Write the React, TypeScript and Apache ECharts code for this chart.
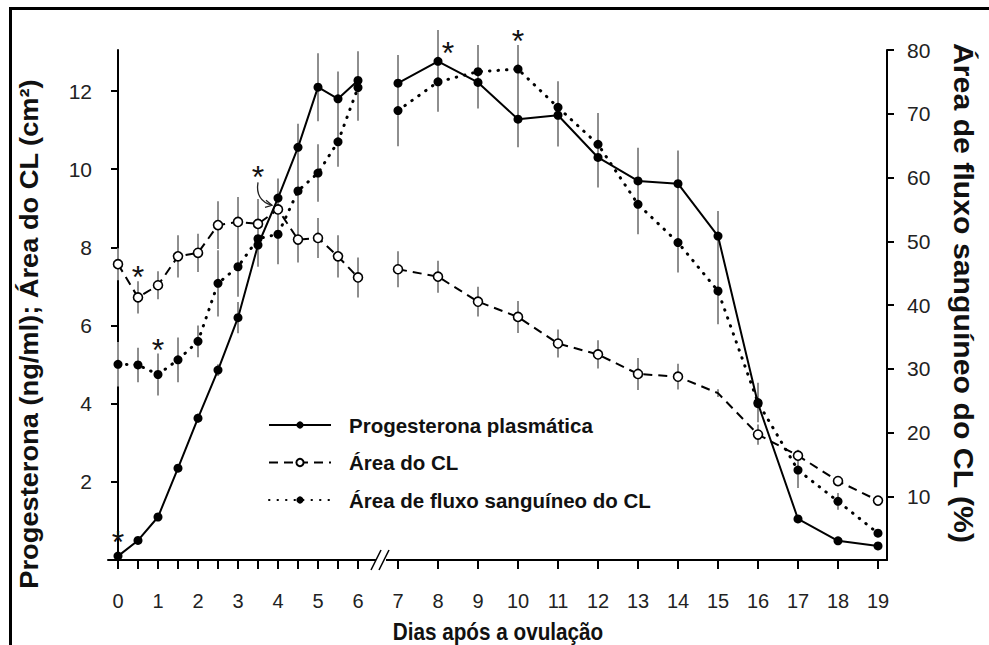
import React, { useEffect, useRef } from "react";
import * as echarts from "echarts";

// ---- data ----
const days = [0, 0.5, 1, 1.5, 2, 2.5, 3, 3.5, 4, 4.5, 5, 5.5, 6, 7, 8, 9, 10, 11, 12, 13, 14, 15, 16, 17, 18, 19];
const progMean = [0.1, 0.5, 1.1, 2.35, 3.63, 4.86, 6.2, 8.06, 9.26, 10.56, 12.1, 11.8, 12.27, 12.2, 12.76, 12.22, 11.28, 11.38, 10.3, 9.7, 9.63, 8.29, 4.0, 1.05, 0.49, 0.36];
const progErr = [0, 0, 0.05, 0.1, 0.12, 0.15, 0.4, 0.5, 0.5, 0.6, 0.87, 0.7, 0.75, 0.72, 0.8, 0.67, 0.72, 0.8, 0.77, 0.85, 0.85, 0.64, 0.3, 0.05, 0.05, 0.05];
const areaMean = [7.57, 6.72, 7.03, 7.77, 7.86, 8.57, 8.65, 8.6, 8.97, 8.2, 8.24, 7.77, 7.23, 7.44, 7.25, 6.61, 6.22, 5.54, 5.26, 4.76, 4.69, 4.27, 3.21, 2.67, 2.02, 1.52];
const areaErr = [0.41, 0.41, 0.36, 0.54, 0.49, 0.61, 0.64, 0.64, 0.64, 0.59, 0.51, 0.54, 0.51, 0.46, 0.41, 0.38, 0.41, 0.36, 0.36, 0.41, 0.33, 0.1, 0.26, 0.15, 0.1, 0.05];
const areaHiddenMarker = [15]; // day whose marker is not visible in the original
const flowMean = [30.7, 30.6, 29.1, 31.4, 34.3, 43.4, 46.0, 50.4, 51.1, 57.9, 60.7, 65.6, 74.1, 70.5, 75.0, 76.6, 77.0, 71.0, 65.2, 55.8, 49.8, 42.2, 24.7, 14.1, 9.2, 4.2];
const flowErr = [3.5, 2.7, 3.3, 3.5, 2.5, 5.2, 4.7, 4.4, 4.7, 4.4, 4.5, 3.9, 5.2, 5.6, 4.7, 4.2, 3.8, 4.1, 4.9, 4.7, 4.7, 5.2, 3.1, 2.8, 1.3, 0.5];

const xTicks = [0, 0.5, 1, 1.5, 2, 2.5, 3, 3.5, 4, 4.5, 5, 5.5, 6, 7, 8, 9, 10, 11, 12, 13, 14, 15, 16, 17, 18, 19];
const xLabels = [0, 1, 2, 3, 4, 5, 6, 7, 8, 9, 10, 11, 12, 13, 14, 15, 16, 17, 18, 19];
const leftTicks = [2, 4, 6, 8, 10, 12];
const rightTicks = [10, 20, 30, 40, 50, 60, 70, 80];
const breakDay = 6.5;

const seriesNames = ["Progesterona plasmática", "Área do CL", "Área de fluxo sanguíneo do CL"];
// asterisks: [day, left-axis value]
const asterisks = [
  [0, 0.59],
  [0.5, 7.37],
  [1, 5.5],
  [3.5, 9.92],
  [8.25, 13.09],
  [10, 13.4],
];
const arrowFrom = 3; // index of asterisk with arrow

const SANS = "'Liberation Sans', Arial, sans-serif";
const NARROW = "'Liberation Sans Narrow', 'Arial Narrow', 'Liberation Sans', Arial, sans-serif";

function lineData(vals: number[], hidden: number[] = []) {
  const out: any[] = [];
  days.forEach((d, i) => {
    if (d === 7) out.push([breakDay, "-"]);
    if (hidden.indexOf(d) >= 0) out.push({ value: [d, vals[i]], symbol: "none" });
    else out.push([d, vals[i]]);
  });
  return out;
}
function errData(vals: number[], errs: number[]) {
  return days.map((d, i) => [d, vals[i] - errs[i], vals[i] + errs[i]]);
}

function errSeries(name: string, vals: number[], errs: number[], yAxisIndex: number) {
  return {
    type: "custom",
    name,
    yAxisIndex,
    z: 1,
    silent: true,
    data: errData(vals, errs),
    encode: { x: 0, y: [1, 2] },
    renderItem: (params: any, api: any) => {
      const x = api.value(0);
      const p1 = api.coord([x, api.value(1)]);
      const p2 = api.coord([x, api.value(2)]);
      return {
        type: "line",
        shape: { x1: p1[0], y1: p1[1], x2: p2[0], y2: p2[1] },
        style: { stroke: "#8e8e8e", lineWidth: 2 },
      };
    },
  };
}

export default function App() {
  const ref = useRef<HTMLDivElement>(null);
  useEffect(() => {
    document.body.style.margin = "0";
    const chart = echarts.init(ref.current!, null, { renderer: "svg" });
    const option: any = {
      animation: false,
      backgroundColor: "#fff",
      grid: { left: 108, right: 102, top: 50, bottom: 85 },
      xAxis: {
        type: "value",
        min: -0.25,
        max: 19.225,
        splitLine: { show: false },
        axisLine: { lineStyle: { color: "#000", width: 2 } },
        axisTick: { customValues: xTicks, length: 9, lineStyle: { color: "#000", width: 2 } },
        axisLabel: {
          customValues: xLabels,
          margin: 31,
          fontSize: 20,
          fontFamily: NARROW,
          color: "#222",
        },
      },
      yAxis: [
        {
          type: "value",
          min: 0,
          max: 13.05,
          position: "left",
          splitLine: { show: false },
          axisLine: { show: true, lineStyle: { color: "#000", width: 2 } },
          axisTick: { show: true, customValues: leftTicks, length: 7, lineStyle: { color: "#000", width: 2 } },
          axisLabel: { customValues: leftTicks, fontSize: 21, fontFamily: NARROW, color: "#222", margin: 16 },
        },
        {
          type: "value",
          min: 0,
          max: 80,
          position: "right",
          splitLine: { show: false },
          axisLine: { show: true, lineStyle: { color: "#000", width: 2 } },
          axisTick: { show: true, customValues: rightTicks, length: 7, lineStyle: { color: "#000", width: 2 } },
          axisLabel: { customValues: rightTicks, fontSize: 21, fontFamily: NARROW, color: "#222", margin: 20 },
        },
      ],
      legend: {
        data: seriesNames,
        orient: "vertical",
        left: 263,
        top: 409,
        itemWidth: 62,
        itemHeight: 9,
        itemGap: 15.5,
        textStyle: {
          fontSize: 20.5,
          fontWeight: "bold",
          fontFamily: SANS,
          color: "#111",
          lineHeight: 22,
          padding: [0, 0, 0, 13],
        },
      },
      series: [
        errSeries("e1", progMean, progErr, 0),
        errSeries("e2", areaMean, areaErr, 0),
        errSeries("e3", flowMean, flowErr, 1),
        {
          type: "line",
          name: seriesNames[2],
          yAxisIndex: 1,
          z: 3,
          data: lineData(flowMean),
          symbol: "circle",
          symbolSize: 9,
          itemStyle: { color: "#000" },
          lineStyle: { color: "#000", width: 3, type: [0.5, 8], cap: "round" },
        },
        {
          type: "line",
          name: seriesNames[1],
          yAxisIndex: 0,
          z: 4,
          data: lineData(areaMean, areaHiddenMarker),
          symbol: "circle",
          symbolSize: 9,
          itemStyle: { color: "#fff", borderColor: "#000", borderWidth: 1.6 },
          lineStyle: { color: "#000", width: 2, type: [9, 6] },
        },
        {
          type: "line",
          name: seriesNames[0],
          yAxisIndex: 0,
          z: 5,
          data: lineData(progMean),
          symbol: "circle",
          symbolSize: 9,
          itemStyle: { color: "#000" },
          lineStyle: { color: "#000", width: 2 },
        },
      ],
    };
    chart.setOption(option);

    const px = (x: number, y: number) => chart.convertToPixel({ gridIndex: 0 } as any, [x, y]) as number[];
    const graphics: any[] = [];
    // frame
    graphics.push({ type: "rect", shape: { x: 9, y: 7, width: 980, height: 3 }, style: { fill: "#000" } });
    graphics.push({ type: "rect", shape: { x: 9, y: 7, width: 3, height: 638 }, style: { fill: "#000" } });
    // axis break
    const b = px(breakDay, 0);
    const bx = b[0] + 4;
    graphics.push({ type: "rect", shape: { x: bx - 6, y: b[1] - 3, width: 10, height: 6 }, style: { fill: "#fff" }, z: 100 });
    graphics.push({ type: "line", shape: { x1: bx - 11, y1: b[1] + 10, x2: bx - 1, y2: b[1] - 10 }, style: { stroke: "#000", lineWidth: 1.5 }, z: 101 });
    graphics.push({ type: "line", shape: { x1: bx - 3, y1: b[1] + 10, x2: bx + 7, y2: b[1] - 10 }, style: { stroke: "#000", lineWidth: 1.5 }, z: 101 });
    // asterisks
    asterisks.forEach((a, i) => {
      const p = px(a[0], a[1]);
      graphics.push({
        type: "text",
        x: p[0],
        y: p[1] + 5,
        z: 100,
        style: { text: "*", fontSize: 32, fontFamily: SANS, fill: "#111", align: "center", verticalAlign: "middle" },
      });
      if (i === arrowFrom) {
        graphics.push({
          type: "bezierCurve",
          z: 100,
          shape: { x1: p[0], y1: p[1] + 10, cpx1: p[0] - 3, cpy1: p[1] + 28, x2: p[0] + 14, y2: p[1] + 33 },
          style: { stroke: "#222", lineWidth: 1.3, fill: null },
        });
        graphics.push({
          type: "polyline",
          z: 100,
          shape: { points: [[p[0] + 8, p[1] + 28], [p[0] + 14, p[1] + 33], [p[0] + 7, p[1] + 35]] },
          style: { stroke: "#222", lineWidth: 1.3, fill: null },
        });
      }
    });
    // axis titles
    graphics.push({
      type: "text",
      x: 29,
      y: 334,
      rotation: Math.PI / 2,
      scaleX: 1.09,
      style: { text: "Progesterona (ng/ml); Área do CL (cm²)", fontSize: 25, fontWeight: "bold", fontFamily: SANS, fill: "#111", align: "center", verticalAlign: "middle" },
    });
    graphics.push({
      type: "text",
      x: 963,
      y: 293,
      rotation: -Math.PI / 2,
      scaleX: 1.12,
      style: { text: "Área de fluxo sanguíneo do CL (%)", fontSize: 27, fontWeight: "bold", fontFamily: SANS, fill: "#111", align: "center", verticalAlign: "middle" },
    });
    graphics.push({
      type: "text",
      x: 498,
      y: 632,
      scaleX: 0.9,
      style: { text: "Dias após a ovulação", fontSize: 23, fontWeight: "bold", fontFamily: SANS, fill: "#111", align: "center", verticalAlign: "middle" },
    });
    chart.setOption({ graphic: graphics });
    return () => chart.dispose();
  }, []);
  return <div ref={ref} style={{ width: 989, height: 645 }} />;
}
